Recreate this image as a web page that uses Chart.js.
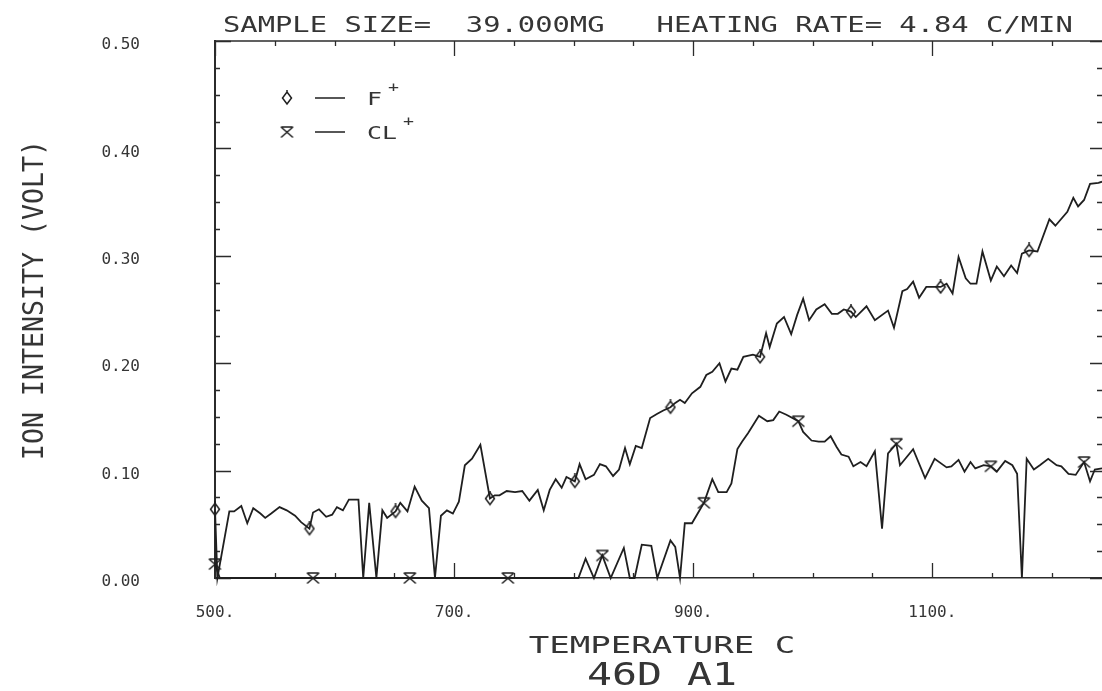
<!DOCTYPE html>
<html>
<head>
<meta charset="utf-8">
<title>46D A1 - ion intensity vs temperature</title>
<script src="https://cdn.jsdelivr.net/npm/chart.js@4.4.0/dist/chart.umd.min.js"></script>
<style>
  html, body { margin: 0; padding: 0; background: #fff; }
  canvas { display: block; }
</style>
</head>
<body>
<canvas id="ionChart" width="1102" height="691"></canvas>
<script>
// temperatures (C) and ion intensities (V)
const fTemp = [500, 502, 512, 516, 522, 527, 532, 538, 542, 547, 554, 560, 567, 572, 579, 582, 587, 593, 598, 602,
  607, 612, 620, 624, 629, 635, 640, 644, 651, 655, 661, 667, 673, 679, 684, 689, 694, 699, 704, 709,
  715, 722, 730, 734, 738, 744, 751, 757, 763, 770, 775, 780, 785, 790, 794, 801, 805, 810, 817, 822,
  827, 833, 838, 843, 847, 852, 857, 864, 870, 875, 881, 885, 889, 893, 899, 906, 911, 916, 922, 927,
  932, 937, 942, 950, 956, 961, 964, 970, 976, 982, 987, 992, 997, 1003, 1010, 1016, 1021, 1026, 1032, 1036,
  1045, 1052, 1063, 1068, 1075, 1079, 1084, 1089, 1095, 1107, 1112, 1117, 1122, 1128, 1132, 1137, 1142, 1149, 1154, 1160,
  1166, 1171, 1175, 1181, 1188, 1198, 1203, 1213, 1218, 1222, 1227, 1232, 1239, 1242];
const fVal = [0.064, 0.000, 0.062, 0.062, 0.067, 0.051, 0.065, 0.060, 0.056, 0.060, 0.066, 0.063, 0.058, 0.052, 0.046, 0.061, 0.064, 0.057, 0.059, 0.066,
  0.063, 0.073, 0.073, 0.000, 0.070, 0.000, 0.063, 0.056, 0.062, 0.070, 0.062, 0.085, 0.072, 0.065, 0.000, 0.058, 0.063, 0.060, 0.071, 0.105,
  0.111, 0.124, 0.074, 0.077, 0.077, 0.081, 0.080, 0.081, 0.072, 0.082, 0.063, 0.082, 0.092, 0.084, 0.094, 0.090, 0.106, 0.092, 0.096, 0.106,
  0.104, 0.095, 0.101, 0.121, 0.106, 0.123, 0.121, 0.149, 0.153, 0.156, 0.159, 0.163, 0.166, 0.163, 0.172, 0.178, 0.189, 0.192, 0.200, 0.183,
  0.195, 0.194, 0.206, 0.208, 0.206, 0.228, 0.215, 0.237, 0.243, 0.227, 0.245, 0.260, 0.240, 0.250, 0.255, 0.246, 0.246, 0.250, 0.248, 0.243,
  0.253, 0.240, 0.249, 0.233, 0.267, 0.269, 0.276, 0.261, 0.271, 0.271, 0.274, 0.265, 0.299, 0.279, 0.274, 0.274, 0.304, 0.277, 0.290, 0.281,
  0.291, 0.284, 0.302, 0.305, 0.304, 0.334, 0.328, 0.341, 0.354, 0.346, 0.352, 0.367, 0.368, 0.369];
const fMarkAt = [500, 579, 651, 730, 801, 881, 956, 1032, 1107, 1181];

const clTemp = [500, 504, 582, 663, 745, 804, 810, 817, 824, 831, 842, 847, 851, 857, 865, 870, 881, 885, 889, 893,
  899, 909, 916, 921, 928, 932, 937, 941, 946, 955, 962, 967, 972, 978, 988, 992, 999, 1005, 1010, 1015,
  1020, 1024, 1030, 1034, 1040, 1045, 1052, 1058, 1063, 1070, 1073, 1084, 1094, 1102, 1112, 1116, 1122, 1127, 1132, 1136,
  1143, 1149, 1154, 1161, 1167, 1171, 1175, 1179, 1185, 1190, 1197, 1204, 1208, 1214, 1220, 1227, 1232, 1236, 1242];
const clVal = [0.013, 0.000, 0.000, 0.000, 0.000, 0.000, 0.018, 0.000, 0.021, 0.000, 0.028, 0.000, 0.000, 0.031, 0.030, 0.000, 0.035, 0.029, 0.000, 0.051,
  0.051, 0.070, 0.092, 0.080, 0.080, 0.088, 0.120, 0.127, 0.135, 0.151, 0.146, 0.147, 0.155, 0.152, 0.146, 0.136, 0.128, 0.127, 0.127, 0.132,
  0.122, 0.115, 0.113, 0.104, 0.108, 0.104, 0.118, 0.046, 0.116, 0.125, 0.105, 0.120, 0.093, 0.111, 0.103, 0.104, 0.110, 0.099, 0.108, 0.102,
  0.105, 0.104, 0.099, 0.109, 0.105, 0.097, 0.000, 0.111, 0.101, 0.105, 0.111, 0.105, 0.104, 0.097, 0.096, 0.108, 0.090, 0.101, 0.102];
const clMarkAt = [500, 582, 663, 745, 824, 909, 988, 1070, 1149, 1227];

const xTickValues = [500, 700, 900, 1100];
const yTickValues = [0, 0.1, 0.2, 0.3, 0.4, 0.5];

const INK = '#1f1f1f';
const TEXT = '#353535';

// plotter style markers
function diamondMark() {
  const c = document.createElement('canvas');
  c.width = 12; c.height = 16;
  const g = c.getContext('2d');
  g.strokeStyle = INK; g.lineWidth = 1.5;
  g.beginPath();
  g.moveTo(6, 2); g.lineTo(10.5, 8); g.lineTo(6, 14); g.lineTo(1.5, 8); g.closePath();
  g.moveTo(6, 0); g.lineTo(6, 3);
  g.stroke();
  return c;
}
function barCrossMark() {
  const c = document.createElement('canvas');
  c.width = 15; c.height = 14;
  const g = c.getContext('2d');
  g.strokeStyle = INK; g.lineWidth = 1.5;
  g.beginPath();
  g.moveTo(1.5, 2); g.lineTo(13.5, 2);
  g.moveTo(1.5, 2); g.lineTo(13.5, 12.5);
  g.moveTo(13.5, 2); g.lineTo(1.5, 12.5);
  g.stroke();
  return c;
}

// text drawn in a monospaced face, stretched to match the plotter lettering
function plotText(ctx, text, x, y, cap, adv, align, rot) {
  const size = cap / 0.729;
  const sx = adv / (0.602 * size);
  ctx.save();
  ctx.translate(x, y);
  if (rot) ctx.rotate(rot);
  ctx.scale(sx, 1);
  ctx.font = size + 'px "DejaVu Sans Mono"';
  ctx.fillStyle = TEXT;
  ctx.textAlign = align;
  ctx.textBaseline = 'alphabetic';
  ctx.fillText(text, 0, cap / 2);
  ctx.restore();
}

const plotterFrame = {
  id: 'plotterFrame',
  beforeDatasetsDraw(chart) {
    const { ctx, chartArea: a, scales: { x, y } } = chart;
    ctx.save();
    ctx.strokeStyle = '#2b2b2b';
    ctx.lineWidth = 1.5;
    ctx.beginPath();
    ctx.moveTo(a.left, a.top); ctx.lineTo(a.right, a.top);
    ctx.stroke();
    ctx.lineWidth = 1.3;
    ctx.beginPath();
    for (let t = x.min; t <= x.max; t += 50) {
      const px = Math.round(x.getPixelForValue(t)) + 0.5;
      const len = (t - 500) % 200 === 0 ? 15 : 5;
      ctx.moveTo(px, a.top); ctx.lineTo(px, a.top + len);
      ctx.moveTo(px, a.bottom); ctx.lineTo(px, a.bottom - len);
    }
    for (let k = 0; k <= 20; k++) {
      const py = Math.round(y.getPixelForValue(k * 0.025)) + 0.5;
      const len = k % 4 === 0 ? 12 : 5;
      ctx.moveTo(a.left, py); ctx.lineTo(a.left + (k % 4 === 0 ? 16 : 5), py);
      ctx.moveTo(a.right, py); ctx.lineTo(a.right - len, py);
    }
    ctx.stroke();
    ctx.restore();
  },
  afterDraw(chart) {
    const ctx = chart.ctx;
    plotText(ctx, 'SAMPLE SIZE=  39.000MG   HEATING RATE= 4.84 C/MIN', 223, 24, 15.5, 17.35, 'left');
    plotText(ctx, 'TEMPERATURE C', 662, 645, 16.5, 20.5, 'center');
    plotText(ctx, '46D A1', 662, 673.5, 23, 25, 'center');
    plotText(ctx, 'ION INTENSITY (VOLT)', 32, 300, 21, 16, 'center', -Math.PI / 2);

    // legend: marker, line sample, ion label with raised charge sign
    const rows = [{ y: 98 }, { y: 132 }];
    chart.data.datasets.forEach((ds, i) => {
      const ry = rows[i].y;
      const img = ds.pointStyle;
      ctx.drawImage(img, 287 - img.width / 2, ry - img.height / 2);
      ctx.save();
      ctx.strokeStyle = INK; ctx.lineWidth = 1.5;
      ctx.beginPath(); ctx.moveTo(315, ry); ctx.lineTo(345, ry); ctx.stroke();
      ctx.restore();
      const ion = ds.label.slice(0, -1);
      const charge = ds.label.slice(-1);
      plotText(ctx, ion, 367, ry, 13.5, 15, 'left');
      plotText(ctx, charge, 367 + ion.length * 15 + 6, ry - 11, 10, 11, 'left');
    });
  }
};

const ionCanvas = document.querySelector('#ionChart');
const fStyle = diamondMark();
const clStyle = barCrossMark();

const ionChart = new Chart(ionCanvas, {
  type: 'line',
  data: {
    datasets: [{
      label: 'F+',
      data: fTemp.map((t, i) => ({ x: t, y: fVal[i] })),
      borderColor: INK,
      borderWidth: 1.8,
      tension: 0,
      pointStyle: fStyle,
      pointRadius: c => (c.raw && fMarkAt.includes(c.raw.x)) ? 6 : 0,
      clip: false
    }, {
      label: 'CL+',
      data: clTemp.map((t, i) => ({ x: t, y: clVal[i] })),
      borderColor: INK,
      borderWidth: 1.8,
      tension: 0,
      pointStyle: clStyle,
      pointRadius: c => (c.raw && clMarkAt.includes(c.raw.x)) ? 6 : 0,
      clip: false
    }]
  },
  options: {
    responsive: false,
    animation: false,
    events: [],
    layout: { autoPadding: false, padding: { top: 41, right: 0, left: 0, bottom: 0 } },
    plugins: {
      legend: { display: false },
      title: { display: false },
      tooltip: { enabled: false }
    },
    scales: {
      x: {
        type: 'linear',
        min: 500,
        max: 1242,
        afterFit: s => { s.height = 113; s.paddingLeft = 0; s.paddingRight = 0; },
        afterBuildTicks: s => { s.ticks = xTickValues.map(v => ({ value: v })); },
        grid: { drawOnChartArea: false, drawTicks: false },
        border: { display: true, color: '#2b2b2b', width: 1.6 },
        ticks: {
          padding: 25,
          color: TEXT,
          font: { family: 'DejaVu Sans Mono', size: 16 },
          callback: v => v + '.'
        }
      },
      y: {
        min: 0,
        max: 0.5,
        afterFit: s => { s.width = 215; s.paddingTop = 0; s.paddingBottom = 0; },
        afterBuildTicks: s => { s.ticks = yTickValues.map(v => ({ value: v })); },
        grid: { drawOnChartArea: false, drawTicks: false },
        border: { display: true, color: '#2b2b2b', width: 2 },
        ticks: {
          padding: 75,
          labelOffset: 4,
          color: TEXT,
          font: { family: 'DejaVu Sans Mono', size: 16 },
          callback: v => v.toFixed(2)
        }
      }
    }
  },
  plugins: [plotterFrame]
});
</script>
</body>
</html>
